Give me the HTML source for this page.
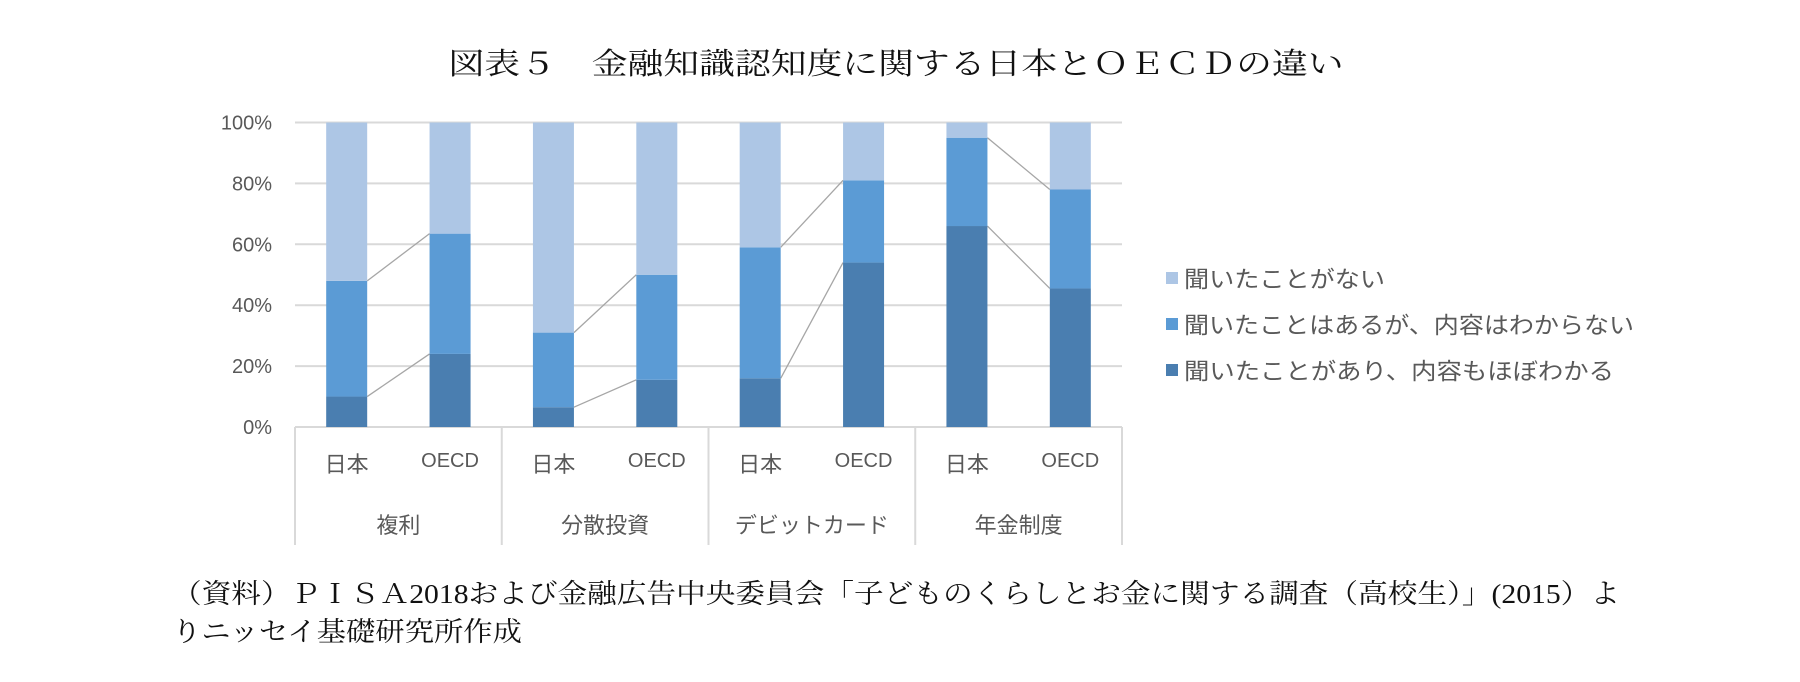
<!DOCTYPE html>
<html><head><meta charset="utf-8"><style>
html,body{margin:0;padding:0;background:#fff;}
svg{display:block;}
.serif{font-family:"Liberation Serif","Noto Serif CJK JP","Noto Serif CJK SC",serif;fill:#111;}
.sans{font-family:"Liberation Sans","Noto Sans CJK JP",sans-serif;fill:#595959;}
</style></head><body>
<svg id="chart" width="1800" height="682" viewBox="0 0 1800 682" xmlns="http://www.w3.org/2000/svg">
<text class="serif" x="896" y="74" font-size="30" text-anchor="middle" textLength="895" lengthAdjust="spacingAndGlyphs">図表５　金融知識認知度に関する日本とＯＥＣＤの違い</text>
<g id="grid"></g>
<g id="yticks"></g>
<g id="lines"></g>
<g id="bars"></g>
<g id="xaxis"></g>
<g id="legend"></g>
<text class="serif" x="172" y="603" font-size="27" textLength="1448" lengthAdjust="spacingAndGlyphs">（資料）ＰＩＳＡ2018および金融広告中央委員会「子どものくらしとお金に関する調査（高校生）」(2015）よ</text>
<text class="serif" x="172" y="641" font-size="27" textLength="350" lengthAdjust="spacingAndGlyphs">りニッセイ基礎研究所作成</text>
</svg>
<script>
const categories = ["複利","分散投資","デビットカード","年金制度"];
const groups = ["日本","OECD"];
const knowValues = [10, 24, 6.5, 15.5, 16, 54, 66, 45.5];
const heardValues = [38, 39.5, 24.5, 34.5, 43, 27, 29, 32.5];
const neverValues = [52, 36.5, 69, 50, 41, 19, 5, 22];
const yTicks = [0, 20, 40, 60, 80, 100];
const seriesNames = ["聞いたことがない","聞いたことはあるが、内容はわからない","聞いたことがあり、内容もほぼわかる"];
const colors = ["#adc6e5","#5b9bd5","#4a7eb0"];

const NS = "http://www.w3.org/2000/svg";
const X0 = 295, X1 = 1122, Y0 = 427, Y100 = 122.5, BW = 41;
const catW = (X1 - X0) / categories.length;
function y(v){ return Y0 - (Y0 - Y100) * v / 100; }
function xc(i){ const c = Math.floor(i/2), g = i%2; return X0 + catW*(c + 0.25 + 0.5*g); }
function mk(tag, attrs, parent){ const e = document.createElementNS(NS, tag); for (const k in attrs) e.setAttribute(k, attrs[k]); parent.appendChild(e); return e; }

const grid = document.getElementById("grid"), yt = document.getElementById("yticks");
yTicks.forEach(t => {
  const l = mk("line", {x1:X0, x2:X1, y1:y(t), y2:y(t), stroke:"#d9d9d9", "stroke-width":2}, grid);
  
  
  const tx = mk("text", {x:272, y:y(t)+7, "font-size":20, "text-anchor":"end", class:"sans"}, yt);
  tx.textContent = t + "%";
  
  
});

const bars = document.getElementById("bars"), lines = document.getElementById("lines");
for (let i = 0; i < knowValues.length; i++) {
  const segs = [[0, knowValues[i], colors[2]], [knowValues[i], knowValues[i]+heardValues[i], colors[1]], [knowValues[i]+heardValues[i], knowValues[i]+heardValues[i]+neverValues[i], colors[0]]];
  segs.forEach(s => {
    const r = mk("rect", {x:xc(i)-BW/2, y:y(s[1]), width:BW, height:y(s[0])-y(s[1]), fill:s[2]}, bars);
    
    
  });
  if (i % 2 === 0) {
    const a1 = knowValues[i], b1 = knowValues[i+1];
    const a2 = knowValues[i]+heardValues[i], b2 = knowValues[i+1]+heardValues[i+1];
    [[a1,b1],[a2,b2]].forEach(p => {
      const l = mk("line", {x1:xc(i)+BW/2, y1:y(p[0]), x2:xc(i+1)-BW/2, y2:y(p[1]), stroke:"#a6a6a6", "stroke-width":1.3}, lines);
      
      
    });
  }
}

const xa = document.getElementById("xaxis");
for (let c = 0; c <= categories.length; c++) {
  const l = mk("line", {x1:X0+catW*c, x2:X0+catW*c, y1:Y0, y2:545, stroke:"#d9d9d9", "stroke-width":2}, xa);
  
  
}
for (let i = 0; i < knowValues.length; i++) {
  const t = mk("text", {x:xc(i), y:i%2===0?472:467, "font-size":i%2===0?22:20, "text-anchor":"middle", class:"sans"}, xa);
  t.textContent = groups[i%2];
  
  
}
categories.forEach((c, k) => {
  const t = mk("text", {x:X0+catW*(k+0.5), y:533, "font-size":22, "text-anchor":"middle", class:"sans"}, xa);
  t.textContent = c;
  
  
});

const lg = document.getElementById("legend");
const legendLens = [201, 450, 430];
seriesNames.forEach((n, k) => {
  const yy = 278 + 46*k;
  const r = mk("rect", {x:1166, y:yy-6, width:12, height:12, fill:colors[k]}, lg);
  
  
  const t = mk("text", {x:1184, y:yy+9, "font-size":23, class:"sans", textLength:legendLens[k], lengthAdjust:"spacingAndGlyphs"}, lg);
  t.textContent = n;
  
  
});
</script>
</body></html>
